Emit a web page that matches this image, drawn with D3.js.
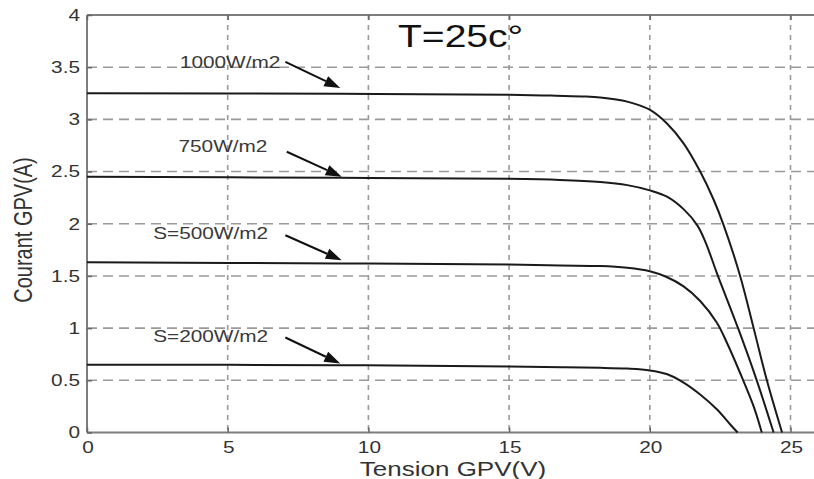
<!DOCTYPE html>
<html>
<head>
<meta charset="utf-8">
<script src="https://cdn.jsdelivr.net/npm/d3@7"></script>
<style>
  html, body { margin: 0; padding: 0; background: #fff; }
  svg { display: block; }
  text { font-family: "Liberation Sans", Arial, sans-serif; }
</style>
</head>
<body>
<svg id="chart" width="814" height="479"></svg>
<script>
// I-V characteristics of the PV generator at T = 25 °C for four irradiance levels
const xTicks = [0, 5, 10, 15, 20, 25];
const yTicks = [0, 0.5, 1, 1.5, 2, 2.5, 3, 3.5, 4];

const v1000 = [0, 9, 15, 16.5, 17.6, 18.24, 19.2, 20.01, 20.61, 21.2, 21.79, 22.27, 22.62, 23.21, 23.69, 24.16, 24.7];
const i1000 = [3.25, 3.245, 3.235, 3.228, 3.22, 3.21, 3.17, 3.09, 2.96, 2.77, 2.5, 2.23, 1.99, 1.5, 1.0, 0.5, 0];

const v750 = [0, 9, 15, 16.8, 18.24, 19.2, 20, 20.61, 21.2, 21.7, 22.0, 22.38, 23.15, 23.8, 24.4];
const i750 = [2.45, 2.44, 2.43, 2.42, 2.40, 2.37, 2.32, 2.26, 2.14, 1.98, 1.81, 1.53, 0.99, 0.5, 0];

const v500 = [0, 9, 15, 16.8, 18.24, 19.2, 20, 20.6, 21.2, 21.79, 22.39, 22.74, 23.21, 23.69, 23.98];
const i500 = [1.63, 1.62, 1.61, 1.60, 1.595, 1.578, 1.545, 1.49, 1.40, 1.26, 1.05, 0.86, 0.57, 0.25, 0];

const v200 = [0, 9, 15, 17, 18.24, 19.2, 20, 20.6, 21.2, 21.79, 22.39, 22.86, 23.12];
const i200 = [0.65, 0.645, 0.632, 0.625, 0.62, 0.612, 0.595, 0.56, 0.478, 0.364, 0.22, 0.077, 0];

// annotation labels, their anchor (V, A) and the arrow from label to curve
const labelText = ["1000W/m2", "750W/m2", "S=500W/m2", "S=200W/m2"];
const labelV    = [3.3, 3.25, 2.35, 2.35];
const labelI    = [3.55, 2.74, 1.91, 0.92];
const arrowFromV = [7.05, 7.1, 7.05, 7.05];
const arrowFromI = [3.55, 2.69, 1.89, 0.91];
const arrowToV   = [9.0, 9.05, 9.05, 9.0];
const arrowToI   = [3.30, 2.45, 1.65, 0.66];

const titleText = "T=25c°";
const xLabel = "Tension GPV(V)";
const yLabel = "Courant GPV(A)";

const svg = d3.select("#chart");
const plotLeft = 87, plotTop = 15, plotBottom = 432.5;
const x = d3.scaleLinear().domain([0, 25]).range([plotLeft, 790.5]);
const y = d3.scaleLinear().domain([0, 4]).range([plotBottom, plotTop]);
const plotRight = x(26);
const stretch = 1.3;

// grid
const grid = svg.append("g").attr("stroke", "#9a9a9a").attr("stroke-width", 1.6);
grid.selectAll("line.v").data(xTicks.filter(d => d > 0)).join("line")
  .attr("class", "v")
  .attr("x1", d => x(d)).attr("x2", d => x(d))
  .attr("y1", plotTop).attr("y2", plotBottom)
  .attr("stroke-dasharray", "5,5");
grid.selectAll("line.h").data(yTicks.filter(d => d > 0 && d < 4)).join("line")
  .attr("class", "h")
  .attr("y1", d => y(d)).attr("y2", d => y(d))
  .attr("x1", plotLeft).attr("x2", plotRight)
  .attr("stroke-dasharray", "10,6");

// axes frame
const frame = svg.append("g").attr("stroke", "#7d7d7d").attr("stroke-width", 2).attr("fill", "none");
frame.append("line").attr("x1", plotLeft).attr("x2", plotRight).attr("y1", plotTop).attr("y2", plotTop);
frame.append("line").attr("x1", plotLeft).attr("x2", plotRight).attr("y1", plotBottom).attr("y2", plotBottom);
frame.append("line").attr("x1", plotLeft).attr("x2", plotLeft).attr("y1", plotTop).attr("y2", plotBottom);

// inward tick marks via d3 axes
const xAxis = svg.append("g").attr("transform", `translate(0,${plotBottom})`)
  .call(d3.axisTop(x).tickValues(xTicks).tickSize(5).tickFormat(""));
const xAxisTop = svg.append("g").attr("transform", `translate(0,${plotTop})`)
  .call(d3.axisBottom(x).tickValues(xTicks).tickSize(5).tickFormat(""));
const yAxis = svg.append("g").attr("transform", `translate(${plotLeft},0)`)
  .call(d3.axisRight(y).tickValues(yTicks).tickSize(5).tickFormat(""));
[xAxis, xAxisTop, yAxis].forEach(g => {
  g.select(".domain").remove();
  g.selectAll(".tick line").attr("stroke", "#666").attr("stroke-width", 1.5);
});

// tick labels (horizontally widened glyphs)
svg.append("g").selectAll("text").data(xTicks).join("text")
  .attr("transform", d => `translate(${x(d) + 1},453) scale(${stretch},1)`)
  .attr("text-anchor", "middle")
  .attr("font-size", 16).attr("fill", "#333")
  .text(d => d);
svg.append("g").selectAll("text").data(yTicks).join("text")
  .attr("transform", d => `translate(80,${y(d)}) scale(${stretch},1)`)
  .attr("text-anchor", "end").attr("dy", "0.36em")
  .attr("font-size", 16).attr("fill", "#333")
  .text(d => d);

// curves
const series = [
  { v: v1000, i: i1000 },
  { v: v750, i: i750 },
  { v: v500, i: i500 },
  { v: v200, i: i200 }
];
const line = d3.line().x(d => x(d[0])).y(d => y(d[1])).curve(d3.curveCatmullRom.alpha(0.5));
svg.append("g").selectAll("path").data(series).join("path")
  .attr("d", s => line(s.v.map((v, k) => [v, s.i[k]])))
  .attr("fill", "none").attr("stroke", "#1a1a1a").attr("stroke-width", 2);

// annotations
const ann = svg.append("g");
labelText.forEach((t, k) => {
  ann.append("text")
    .attr("transform", `translate(${x(labelV[k])},${y(labelI[k])}) scale(${stretch},1)`)
    .attr("dy", "0.36em").attr("font-size", 16).attr("fill", "#3a3a3a")
    .text(t);
  const x0 = x(arrowFromV[k]), y0 = y(arrowFromI[k]);
  const x1 = x(arrowToV[k]), y1 = y(arrowToI[k]);
  const ang = Math.atan2(y1 - y0, x1 - x0);
  const hl = 16, hw = 5.5;
  const bx = x1 - hl * Math.cos(ang), by = y1 - hl * Math.sin(ang);
  ann.append("line")
    .attr("x1", x0).attr("y1", y0).attr("x2", bx).attr("y2", by)
    .attr("stroke", "#111").attr("stroke-width", 2);
  const px = -Math.sin(ang) * hw, py = Math.cos(ang) * hw;
  ann.append("path")
    .attr("d", `M${x1},${y1}L${bx + px},${by + py}L${bx - px},${by - py}Z`)
    .attr("fill", "#111");
});

// title and axis labels
svg.append("text")
  .attr("transform", `translate(398,47) scale(1.26,1)`)
  .attr("font-size", 31).attr("fill", "#111")
  .text(titleText);
svg.append("text")
  .attr("transform", `translate(453,476) scale(${stretch},1)`)
  .attr("text-anchor", "middle").attr("font-size", 20).attr("fill", "#333")
  .text(xLabel);
svg.append("text")
  .attr("transform", `translate(23,230) scale(${stretch},1) rotate(-90)`)
  .attr("text-anchor", "middle").attr("dy", "0.36em").attr("font-size", 20).attr("fill", "#333")
  .text(yLabel);
</script>
</body>
</html>
